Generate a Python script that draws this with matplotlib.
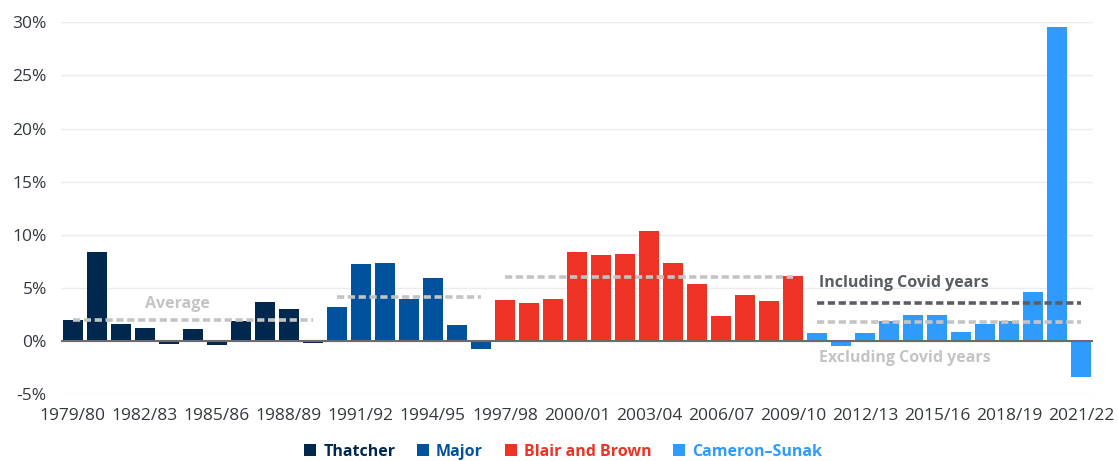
import matplotlib.pyplot as plt
from matplotlib.patches import Patch

# Year-on-year real growth in day-to-day spending, by government
thatcher_years = ["1979/80", "1980/81", "1981/82", "1982/83", "1983/84", "1984/85",
                  "1985/86", "1986/87", "1987/88", "1988/89", "1989/90"]
thatcher_vals = [2.0, 8.4, 1.6, 1.2, -0.3, 1.1, -0.4, 1.9, 3.7, 3.0, -0.2]

major_years = ["1990/91", "1991/92", "1992/93", "1993/94", "1994/95", "1995/96", "1996/97"]
major_vals = [3.2, 7.3, 7.4, 4.0, 5.9, 1.5, -0.7]

blair_years = ["1997/98", "1998/99", "1999/00", "2000/01", "2001/02", "2002/03", "2003/04",
               "2004/05", "2005/06", "2006/07", "2007/08", "2008/09", "2009/10"]
blair_vals = [3.9, 3.6, 4.0, 8.4, 8.1, 8.2, 10.4, 7.4, 5.4, 2.4, 4.3, 3.8, 6.1]

cameron_years = ["2010/11", "2011/12", "2012/13", "2013/14", "2014/15", "2015/16",
                 "2016/17", "2017/18", "2018/19", "2019/20", "2020/21", "2021/22"]
cameron_vals = [0.8, -0.5, 0.8, 1.9, 2.5, 2.5, 0.9, 1.6, 1.9, 4.6, 29.6, -3.4]

group_names = ["Thatcher", "Major", "Blair and Brown", "Cameron\u2013Sunak"]
group_colors = ["#00284f", "#00529f", "#ee3224", "#2f9bff"]
group_avgs = [2.0, 4.2, 6.0, 1.8]
avg_incl_covid = 3.55

plt.rcParams['font.family'] = ['Open Sans', 'DejaVu Sans']

fig = plt.figure(figsize=(11.18, 4.61), dpi=100)
ax = fig.add_axes([0.0543, 0.1447, 0.9234, 0.8069])

groups = [(thatcher_years, thatcher_vals), (major_years, major_vals),
          (blair_years, blair_vals), (cameron_years, cameron_vals)]

all_years = []
start = 0
spans = []
for (yrs, vals), color in zip(groups, group_colors):
    xs = list(range(start, start + len(yrs)))
    ax.bar(xs, vals, width=0.83, color=color, zorder=3)
    spans.append((xs[0], xs[-1]))
    all_years += yrs
    start += len(yrs)

# average lines per government
for (x0, x1), avg in zip(spans, group_avgs):
    ax.hlines(avg, x0, x1, colors="#c4c4c4", linestyles=(0, (2, 1)), linewidth=2.6, zorder=4)
cx0, cx1 = spans[3]
ax.hlines(avg_incl_covid, cx0, cx1, colors="#5a5e63", linestyles=(0, (2, 1)), linewidth=2.6, zorder=4)

ax.text(4.35, 3.45, "Average", color="#c4c4c4", fontsize=11.5, fontweight="bold",
        ha="center", va="center", zorder=5)
ax.text(31.1, 5.45, "Including Covid years", color="#5a5e63", fontsize=11.5,
        fontweight="bold", ha="left", va="center", zorder=5)
ax.text(31.1, -1.6, "Excluding Covid years", color="#c4c4c4", fontsize=11.5,
        fontweight="bold", ha="left", va="center", zorder=5)

ax.axhline(0, color="#6b6b6b", linewidth=1.5, zorder=4)

ax.set_xlim(-0.5, len(all_years) - 0.5)
ax.set_ylim(-5, 30)
ax.set_yticks([-5, 0, 5, 10, 15, 20, 25, 30])
ax.set_yticklabels(["-5%", "0%", "5%", "10%", "15%", "20%", "25%", "30%"])
tick_pos = list(range(0, len(all_years), 3))
ax.set_xticks(tick_pos)
ax.set_xticklabels([all_years[i] for i in tick_pos])
ax.tick_params(axis="both", length=0, labelsize=12.5, labelcolor="#333840")
ax.tick_params(axis="x", pad=10)
ax.tick_params(axis="y", pad=10)
ax.grid(axis="y", color="#ececec", linewidth=1, zorder=0)
for s in ax.spines.values():
    s.set_visible(False)

handles = [Patch(facecolor=c, edgecolor="none") for c in group_colors]
leg = fig.legend(handles, group_names, loc="lower center", bbox_to_anchor=(0.5036, -0.028),
                 ncol=4, frameon=False, handlelength=0.75, handleheight=0.75,
                 handletextpad=0.45, columnspacing=1.35,
                 prop={"size": 11.5, "weight": "bold"})
for txt, c in zip(leg.get_texts(), group_colors):
    txt.set_color(c)

fig.savefig("out.png", dpi=100)
